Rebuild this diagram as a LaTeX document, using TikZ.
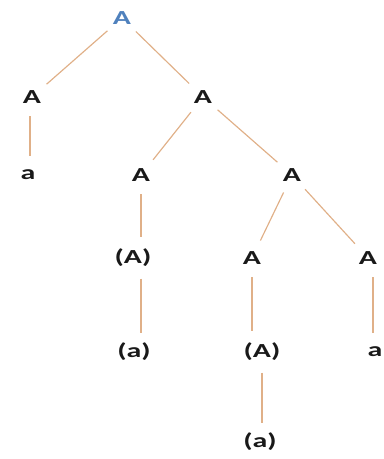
\documentclass[tikz,border=0pt]{standalone}
\usepackage{fontspec}
\setmainfont{Carlito}
\usepackage{graphicx}
\usepackage{tikz}
\definecolor{rootblue}{RGB}{79,129,189}
\definecolor{edgetan}{RGB}{224,176,136}
\newcommand{\widesym}[1]{\scalebox{1.5}[1]{#1}}

\begin{document}
\begin{tikzpicture}[
    x=0.03cm, y=-0.03cm,
    sym/.style={circle, inner sep=0pt, minimum size=1.15cm, font=\fontsize{17}{20}\selectfont\bfseries, text=black!90},
    edge/.style={draw=edgetan, line width=1pt}
]
\useasboundingbox (0,0) rectangle (383,459);

% Level 0
\node[sym, text=rootblue] (root) at (122,18) {\widesym{A}};

% Level 1
\node[sym] (l) at (32,97) {\widesym{A}};
\node[sym] (r) at (203,97) {\widesym{A}};

% Level 2
\node[sym] (la) at (28,175) {\widesym{a}};
\node[sym] (rl) at (141,175) {\widesym{A}};
\node[sym] (rr) at (292,175) {\widesym{A}};

% Level 3
\node[sym] (rlp) at (133,258) {\widesym{(A)}};
\node[sym] (rrl) at (252,258) {\widesym{A}};
\node[sym] (rrr) at (368,258) {\widesym{A}};

% Level 4
\node[sym] (rlpa) at (134,352) {\widesym{(a)}};
\node[sym] (rrlp) at (262,352) {\widesym{(A)}};
\node[sym] (rrra) at (375,352) {\widesym{a}};

% Level 5
\node[sym] (rrlpa) at (260,442) {\widesym{(a)}};

% Edges
\draw[edge] (root) -- (l);
\draw[edge] (root) -- (r);
\draw[edge] ([xshift=-0.06cm]l.south) -- ([xshift=-0.06cm]l.south |- la.north);
\draw[edge] (r) -- (rl);
\draw[edge] (r) -- (rr);
\draw[edge] (rl.south) -- (rl.south |- rlp.north);
\draw[edge] (rr) -- (rrl);
\draw[edge] (rr) -- (rrr);
\draw[edge] (rl |- rlp.south) -- (rl |- rlpa.north);
\draw[edge] (rrl.south) -- (rrl.south |- rrlp.north);
\draw[edge] ([xshift=0.15cm]rrr.south) -- ([xshift=0.15cm]rrr.south |- rrra.north);
\draw[edge] (rrlp.south) -- (rrlp.south |- rrlpa.north);

\end{tikzpicture}
\end{document}
